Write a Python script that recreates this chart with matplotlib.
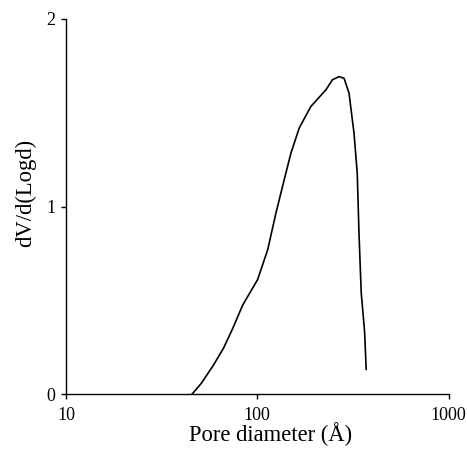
#!/usr/bin/env python3
"""Pore size distribution: dV/d(Logd) vs pore diameter (log scale)."""

import matplotlib
matplotlib.use("Agg")
import matplotlib.pyplot as plt

plt.rcParams["font.family"] = ["Liberation Serif", "DejaVu Serif"]

# values
pore_diameter = [45.5, 50.9, 58.5, 66.5, 74.3, 83.8, 100.4, 113.3, 125.1, 138.2,
                 149.9, 165.5, 190.5, 228.0, 246.8, 267.4, 283.9, 301.4, 320.0,
                 332.7, 339.7, 349.0, 363.7, 370.5]
dv_dlogd = [0.0, 0.058, 0.15, 0.245, 0.35, 0.475, 0.612, 0.771, 0.966, 1.144,
            1.286, 1.419, 1.534, 1.622, 1.676, 1.693, 1.684, 1.605, 1.392,
            1.179, 0.861, 0.542, 0.33, 0.133]

x_ticks = [10, 100, 1000]
y_ticks = [0, 1, 2]

fig = plt.figure(figsize=(4.67, 4.51), dpi=100)
ax = fig.add_axes([0.1413, 0.1257, 0.8195, 0.8322])

ax.plot(pore_diameter, dv_dlogd, color="black", linewidth=1.2)

ax.set_xscale("log")
ax.set_xlim(10, 1000)
ax.set_ylim(0, 2)
ax.set_xticks(x_ticks)
ax.set_xticklabels([str(t) for t in x_ticks])
ax.minorticks_off()
ax.set_yticks(y_ticks)
ax.tick_params(direction="out", length=3.5, width=1.0, labelsize=13)
ax.tick_params(axis="x", pad=5.5)
ax.tick_params(axis="y", pad=4)

for side in ("top", "right"):
    ax.spines[side].set_visible(False)
for side in ("left", "bottom"):
    ax.spines[side].set_linewidth(1.0)

# labels in the original sit a little right / above the axis centre
ax.set_xlabel("Pore diameter (Å)", fontsize=16.3, labelpad=2)
ax.xaxis.set_label_coords(0.535, -0.075)
ax.xaxis.label.set_va("top")
ax.set_ylabel("dV/d(Logd)", fontsize=16.3)
ax.yaxis.set_label_coords(-0.078, 0.536)

fig.savefig("out.png", dpi=100)
